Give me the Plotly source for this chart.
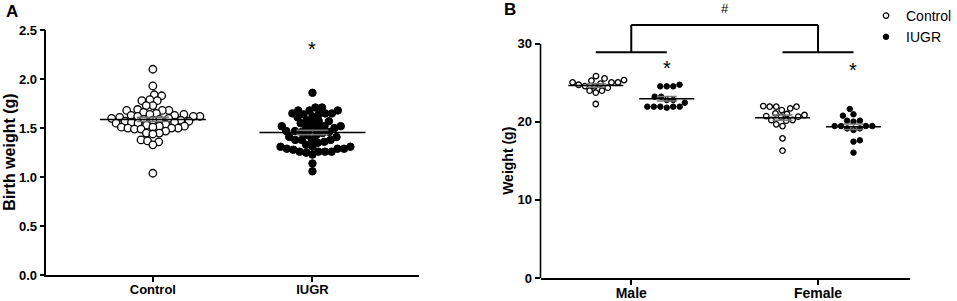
import numpy as np
import plotly.graph_objects as go

# ---------------- data ----------------
categories_a = ["Control", "IUGR"]
birth_control = [2.10, 1.93, 1.84, 1.83, 1.79, 1.78, 1.78, 1.73, 1.73, 1.69, 1.68, 1.68, 1.68,
                 1.66, 1.65, 1.64, 1.64, 1.63, 1.63, 1.62, 1.62, 1.62, 1.61, 1.60, 1.60, 1.59,
                 1.59, 1.58, 1.58, 1.57, 1.57, 1.56, 1.56, 1.55, 1.55, 1.54, 1.53, 1.52, 1.52,
                 1.51, 1.51, 1.50, 1.50, 1.50, 1.49, 1.49, 1.47, 1.45, 1.45, 1.44, 1.38, 1.37,
                 1.36, 1.33, 1.04]
birth_iugr = [1.86,
              1.65, 1.64, 1.68, 1.68, 1.68, 1.65, 1.65, 1.71, 1.71, 1.64, 1.62,
              1.57, 1.57, 1.58, 1.61, 1.55, 1.52, 1.55, 1.52,
              1.50, 1.52, 1.47, 1.43, 1.46, 1.46, 1.45, 1.43, 1.48, 1.41, 1.47, 1.50, 1.51,
              1.38, 1.38, 1.41, 1.35, 1.36, 1.38, 1.38,
              1.33, 1.26, 1.26, 1.26, 1.28, 1.31, 1.29, 1.26, 1.29, 1.29, 1.31, 1.25, 1.31,
              1.23, 1.14, 1.06]

categories_b = ["Male", "Female"]
male_control = [25.05, 25.35, 25.86, 25.56, 25.05, 25.05, 25.27, 24.58, 24.37, 24.90,
                23.99, 23.99, 23.73, 22.28, 24.75, 24.55]
male_iugr = [24.54, 24.54, 24.54, 24.75, 23.22, 23.22, 22.80, 22.79, 22.45, 21.94,
             21.94, 21.94, 21.81, 21.94, 21.94]
female_control = [21.72, 21.94, 21.94, 21.94, 21.50, 22.02, 20.74, 21.00, 21.08, 20.87,
                  20.66, 20.66, 20.15, 20.23, 19.68, 19.46, 20.23, 17.88, 16.30]
female_iugr = [21.64, 20.96, 20.79, 20.02, 20.15, 20.15, 19.46, 19.16, 18.95, 19.46,
               19.46, 19.46, 19.16, 17.46, 17.63, 16.05]

ticks_a = [0.0, 0.5, 1.0, 1.5, 2.0, 2.5]
ticklabels_a = ["0.0", "0.5", "1.0", "1.5", "2.0", "2.5"]
ticks_b = [0, 10, 20, 30]
ticklabels_b = ["0", "10", "20", "30"]

# ---------------- geometry (pixels) ----------------
W, H = 957, 301
FONT = "Arial, Liberation Sans, sans-serif"

A_px = (46.4, 419.4)      # x pixel extent
A_py = (275.3, 30.0)      # y pixel extent (bottom, top)
A_xr = [0.333, 2.67]
A_yr = [0, 2.5]

B_px = (540.5, 909.7)
B_py = (278.0, 20.3)
B_xr = [0.514, 2.491]
B_yr = [0, 33]

def dom_x(p):
    return [p[0] / W, p[1] / W]

def dom_y(p):
    return [1 - p[0] / H, 1 - p[1] / H]

def scales(px, py, xr, yr):
    sx = (px[1] - px[0]) / (xr[1] - xr[0])
    sy = (py[0] - py[1]) / (yr[1] - yr[0])
    return sx, sy

def swarm(values, center, sx, sy, d):
    vals = np.asarray(values, float)
    order = np.argsort(vals)
    placed = []
    xs = np.zeros(len(vals))
    for k, i in enumerate(order):
        y = vals[i] * sy
        cands = [0.0]
        for (px, py) in placed:
            dy = y - py
            if abs(dy) < d:
                dx = np.sqrt(d * d - dy * dy)
                cands += [px + dx, px - dx]
        sgn = 1 if k % 2 else -1
        cands.sort(key=lambda c: (round(abs(c), 3), sgn * c))
        chosen = cands[-1]
        for c in cands:
            if all((c - px) ** 2 + (y - py) ** 2 >= d * d - 1e-6 for px, py in placed):
                chosen = c
                break
        placed.append((chosen, y))
        xs[i] = center + chosen / sx
    return xs

def sem(v):
    v = np.asarray(v, float)
    return v.std(ddof=1) / np.sqrt(len(v))

def bold(lst):
    return ["<b>%s</b>" % s for s in lst]

fig = go.Figure()

def open_marker(s, lw):
    return dict(symbol="circle", size=s, color="white", line=dict(color="black", width=lw))

def fill_marker(s, lw):
    return dict(symbol="circle", size=s, color="black", line=dict(color="black", width=lw))

# ---------------- Panel A ----------------
sxA, syA = scales(A_px, A_py, A_xr, A_yr)
groupsA = [(birth_control, 1, open_marker(7.5, 1.3)), (birth_iugr, 2, fill_marker(7.5, 1.0))]
for vals, cx, mk in groupsA:
    xs = swarm(vals, cx, sxA, syA, 6.6)
    fig.add_trace(go.Scatter(x=xs, y=vals, mode="markers", marker=mk, showlegend=False,
                             xaxis="x", yaxis="y", hoverinfo="y"))
for vals, cx, mk in groupsA:
    m = float(np.mean(vals))
    fig.add_trace(go.Scatter(x=[cx], y=[m], mode="markers", marker=dict(size=0.1, color="rgba(0,0,0,0)"),
                             error_y=dict(type="data", array=[sem(vals)], color="#777777", thickness=1.6, width=16),
                             showlegend=False, xaxis="x", yaxis="y", hoverinfo="skip"))
    half = 53 / sxA
    fig.add_trace(go.Scatter(x=[cx - half, cx + half], y=[m, m], mode="lines",
                             line=dict(color="black", width=1.6), showlegend=False,
                             xaxis="x", yaxis="y", hoverinfo="skip"))

# ---------------- Panel B ----------------
sxB, syB = scales(B_px, B_py, B_xr, B_yr)
off = 0.19
groupsB = [
    (male_control, 1 - off, open_marker(5.5, 1.3), "Control", True),
    (male_iugr, 1 + off, fill_marker(5.5, 1.0), "IUGR", True),
    (female_control, 2 - off, open_marker(5.5, 1.3), "Control", False),
    (female_iugr, 2 + off, fill_marker(5.5, 1.0), "IUGR", False),
]
for vals, cx, mk, name, sl in groupsB:
    xs = swarm(vals, cx, sxB, syB, 6.5)
    fig.add_trace(go.Scatter(x=xs, y=vals, mode="markers", marker=mk, name=name,
                             legendgroup=name, showlegend=sl, xaxis="x2", yaxis="y2", hoverinfo="y"))
for vals, cx, mk, name, sl in groupsB:
    m = float(np.mean(vals))
    fig.add_trace(go.Scatter(x=[cx], y=[m], mode="markers", marker=dict(size=0.1, color="rgba(0,0,0,0)"),
                             error_y=dict(type="data", array=[sem(vals)], color="#777777", thickness=1.5, width=10),
                             showlegend=False, xaxis="x2", yaxis="y2", hoverinfo="skip"))
    half = 27.5 / sxB
    fig.add_trace(go.Scatter(x=[cx - half, cx + half], y=[m, m], mode="lines",
                             line=dict(color="black", width=1.6), showlegend=False,
                             xaxis="x2", yaxis="y2", hoverinfo="skip"))

# bracket (comparison Male vs Female)
br_low, br_high = 28.9, 32.4
bl = dict(color="black", width=2)
shapes = [
    dict(type="line", xref="x2", yref="y2", x0=1 - off, x1=1 + off, y0=br_low, y1=br_low, line=bl),
    dict(type="line", xref="x2", yref="y2", x0=2 - off, x1=2 + off, y0=br_low, y1=br_low, line=bl),
    dict(type="line", xref="x2", yref="y2", x0=1, x1=1, y0=br_low, y1=br_high, line=bl),
    dict(type="line", xref="x2", yref="y2", x0=2, x1=2, y0=br_low, y1=br_high, line=bl),
    dict(type="line", xref="x2", yref="y2", x0=1, x1=2, y0=br_high, y1=br_high, line=bl),
    # y-axis line of panel B, only up to 30
    dict(type="line", xref="x2 domain", yref="y2", x0=0, x1=0, y0=0, y1=30,
         line=dict(color="black", width=1.6)),
]

C = dict(xanchor="center", yanchor="middle", showarrow=False)
annotations = [
    dict(text="<b>A</b>", x=12 / W, y=1 - 11 / H, xref="paper", yref="paper",
         font=dict(family=FONT, size=17, color="black"), **C),
    dict(text="<b>B</b>", x=510 / W, y=1 - 10 / H, xref="paper", yref="paper",
         font=dict(family=FONT, size=17, color="black"), **C),
    dict(text="<b>Birth weight (g)</b>", x=10 / W, y=float(np.mean(dom_y(A_py))), xref="paper", yref="paper",
         textangle=-90, font=dict(family=FONT, size=16, color="black"), **C),
    dict(text="<b>Weight (g)</b>", x=508 / W, y=float(np.mean(dom_y((B_py[0], 43.7)))), xref="paper", yref="paper",
         textangle=-90, font=dict(family=FONT, size=14, color="black"), **C),
    dict(text="*", x=2, y=2.31, xref="x", yref="y",
         font=dict(family=FONT, size=20, color="black"), **C),
    dict(text="*", x=1 + off, y=26.9, xref="x2", yref="y2",
         font=dict(family=FONT, size=20, color="black"), **C),
    dict(text="*", x=2 + off, y=26.6, xref="x2", yref="y2",
         font=dict(family=FONT, size=20, color="black"), **C),
    dict(text="#", x=1.5, y=1 - 9 / H, xref="x2", yref="paper",
         font=dict(family=FONT, size=13, color="black"), **C),
]

axis_common = dict(showgrid=False, zeroline=False, ticks="outside", ticklen=5, tickwidth=1.6,
                   tickcolor="black", linecolor="black", linewidth=1.6, automargin=False)

fig.update_layout(
    template="none",
    width=W, height=H,
    autosize=False,
    margin=dict(l=0, r=0, t=0, b=0, pad=0, autoexpand=False),
    paper_bgcolor="white", plot_bgcolor="white",
    font=dict(family=FONT, color="black"),
    xaxis=dict(domain=dom_x(A_px), range=A_xr, tickvals=[1, 2], ticktext=bold(categories_a),
               showline=True, anchor="y", tickfont=dict(family=FONT, size=13),
               ticklabelstandoff=-4, **axis_common),
    yaxis=dict(domain=dom_y(A_py), range=A_yr, tickvals=ticks_a, ticktext=bold(ticklabels_a),
               showline=True, anchor="x", tickfont=dict(family=FONT, size=13), **axis_common),
    xaxis2=dict(domain=dom_x(B_px), range=B_xr, tickvals=[1, 2], ticktext=bold(categories_b),
                showline=True, anchor="y2", tickfont=dict(family=FONT, size=14),
                ticklabelstandoff=-4, **axis_common),
    yaxis2=dict(domain=dom_y(B_py), range=B_yr, tickvals=ticks_b, ticktext=bold(ticklabels_b),
                showline=False, anchor="x2", tickfont=dict(family=FONT, size=13), **axis_common),
    shapes=shapes,
    annotations=annotations,
    showlegend=True,
    legend=dict(x=1, y=1, xanchor="right", yanchor="top",
                font=dict(family=FONT, size=14, color="black"),
                bgcolor="rgba(0,0,0,0)", borderwidth=0, itemwidth=30, tracegroupgap=0),
)

fig.write_html("out.html", config={"displayModeBar": False},
               post_script="document.body.style.margin='0';document.body.style.padding='0';")
